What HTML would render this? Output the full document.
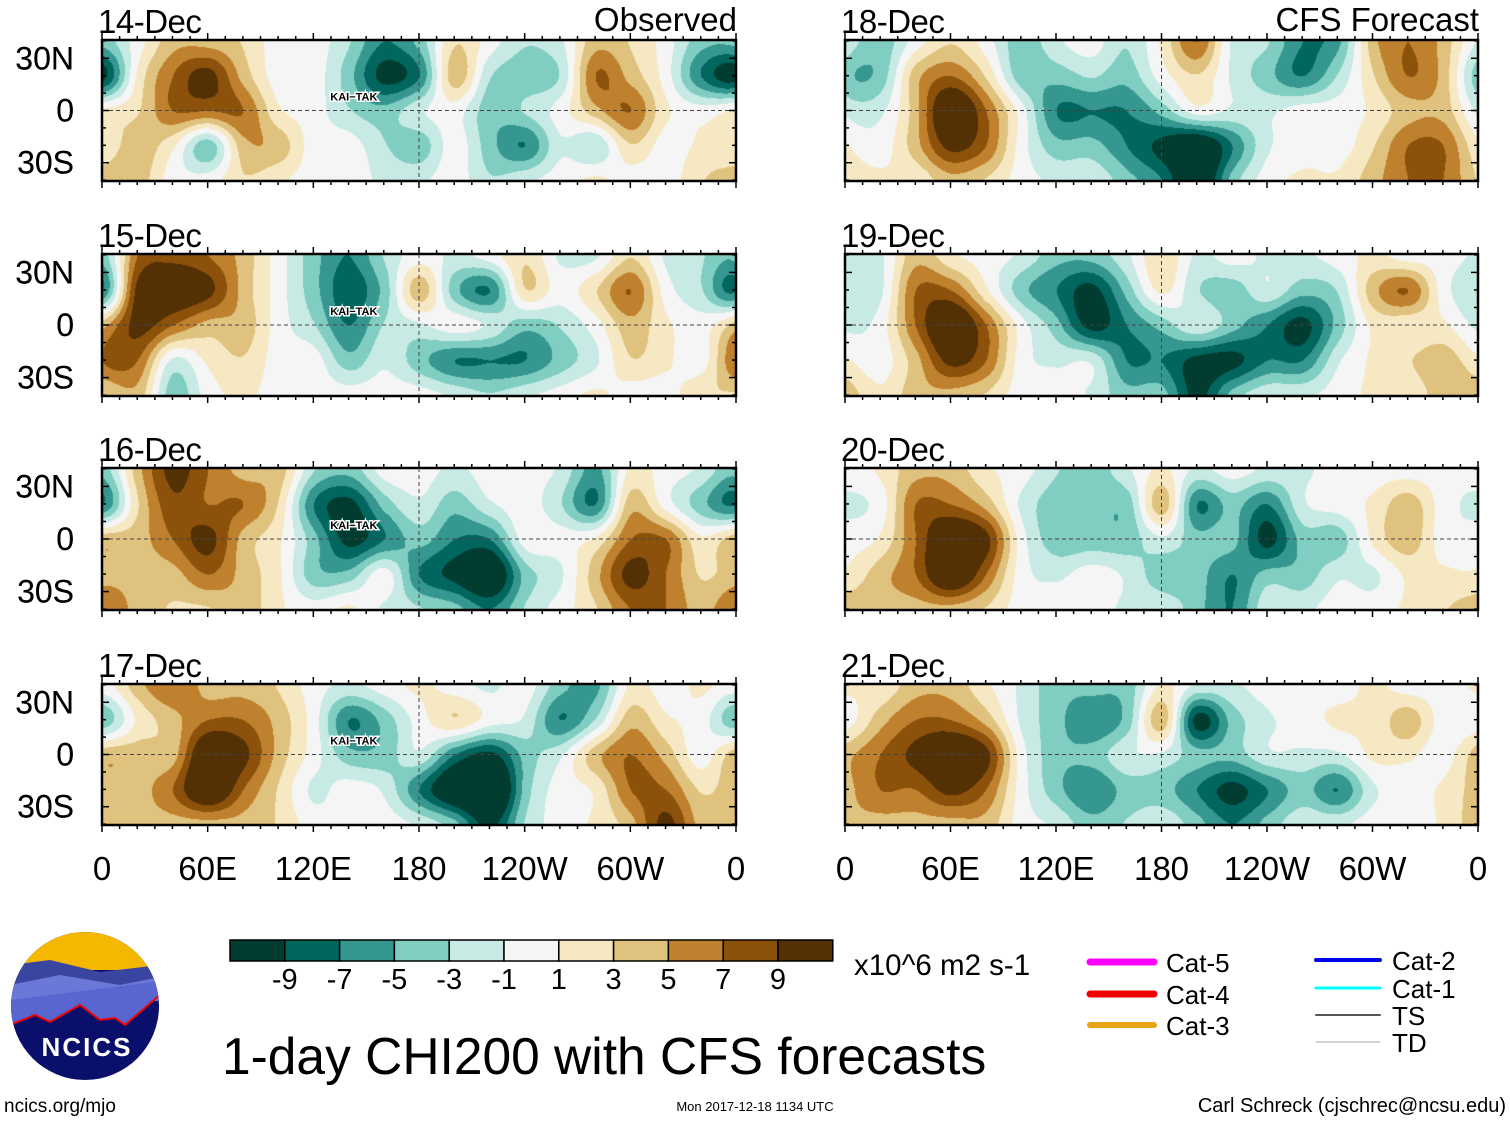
<!DOCTYPE html>
<html><head><meta charset="utf-8">
<style>
body{margin:0;background:#fff;width:1510px;height:1121px;overflow:hidden;position:relative;font-family:"Liberation Sans",sans-serif}
canvas{position:absolute}
svg{position:absolute;left:0;top:0}
</style></head>
<body>
<canvas id="c0" width="634" height="141" style="left:102px;top:40px"></canvas>
<canvas id="c1" width="634" height="142" style="left:102px;top:254px"></canvas>
<canvas id="c2" width="634" height="142" style="left:102px;top:468px"></canvas>
<canvas id="c3" width="634" height="141" style="left:102px;top:684px"></canvas>
<canvas id="c4" width="633" height="141" style="left:845px;top:40px"></canvas>
<canvas id="c5" width="633" height="142" style="left:845px;top:254px"></canvas>
<canvas id="c6" width="633" height="142" style="left:845px;top:468px"></canvas>
<canvas id="c7" width="633" height="141" style="left:845px;top:684px"></canvas>
<svg id="ov" width="1510" height="1121"></svg>
<script>
// grid: lon 0..340 step 20; rows lat 40N,20N,0,20S,40S
const lonCols=[0,20,40,60,80,100,120,140,160,180,200,220,240,260,280,300,320,340];
const latRows=[40,20,0,-20,-40];
const dates=["14-Dec","15-Dec","16-Dec","17-Dec","18-Dec","19-Dec","20-Dec","21-Dec"];
const levels=[-9,-7,-5,-3,-1,1,3,5,7,9];
const colors=["#003c30","#01665e","#35978f","#80cdc1","#c7eae5","#f5f5f5","#f6e8c3","#dfc27d","#bf812d","#8c510a","#543005"];
const xTickLabels=["0","60E","120E","180","120W","60W","0"];
const yTickLabels=["30N","0","30S"];
const p0=[[-3,0,3,3,2,0,0,-2,-5,-3,2,0,-2,-1,3,2,0,-3],[-7,1,5,7,3,0,0,-3,-7,-5,3,-2,-3,-2,5,3,0,-5],[1,2,5,5,5,1,0,-2,-3,-1,0,-3,-2,0,3,5,1,0],[1,3,1,-3,3,3,0,0,-2,-3,0,-3,-5,-1,-2,2,0,1],[3,3,0,0,2,1,0,0,-1,-1,0,-2,-1,0,1,0,0,2]];
const p1=[[-3,5,6,5,3,0,-3,-5,-2,0,-1,0,2,-1,-1,2,-1,-2],[-5,7,8,7,3,0,-3,-6,-3,3,-3,-5,2,0,2,5,0,-2],[3,7,5,3,3,0,-2,-5,-2,-1,0,-1,-3,-2,0,3,1,0],[5,5,-1,1,2,0,0,-3,-1,-3,-5,-5,-5,-3,-1,2,1,0],[2,3,-3,0,1,0,0,0,0,0,-1,-2,-1,0,1,0,0,2]];
const p2=[[-3,3,7,5,3,3,-2,-3,0,0,-1,0,0,-1,-4,1,0,-1],[-5,2,6,5,5,2,-5,-7,-3,-1,-3,-1,0,-2,-5,3,0,-3],[3,3,5,7,3,1,-3,-7,-5,-3,-5,-5,0,0,1,5,5,1],[3,3,3,5,3,1,-3,-3,0,-5,-7,-9,-3,-1,3,7,5,2],[5,3,2,2,3,1,0,1,-1,-2,-3,-5,-2,0,2,5,5,3]];
const p3=[[0,3,5,3,3,2,0,-1,0,1,0,-1,0,-3,-4,1,0,1],[-3,1,3,5,5,3,0,-5,-3,0,2,0,-1,-5,-2,3,1,0],[3,3,3,9,7,3,0,-3,-3,-1,-5,-7,-3,-1,3,5,3,0],[3,3,5,9,5,2,-1,0,-1,-5,-9,-11,-3,0,1,5,5,2],[3,3,3,3,3,2,0,0,0,-1,-3,-7,-2,0,1,3,7,3]];
const p4=[[-1,-3,0,2,0,-3,-1,0,-2,1,5,-1,-2,-5,-4,3,5,3],[-3,-3,3,5,2,-3,-3,-2,-3,0,2,-1,-3,-5,-2,2,5,3],[-1,-1,3,9,5,0,-5,-5,-5,-3,0,-1,-1,0,0,1,3,3],[1,0,3,7,5,0,-3,-3,-5,-7,-9,-5,-1,0,0,2,5,5],[2,1,1,3,2,0,-1,-1,-3,-5,-9,-3,0,1,1,3,5,5]];
const p5=[[-1,-1,3,1,0,-1,-3,-3,-1,2,-1,0,-1,-1,0,1,0,0],[-2,-1,5,5,1,-3,-5,-7,-3,1,-2,-3,-1,-3,-2,3,5,0],[-1,0,5,9,5,0,-3,-7,-5,-3,-1,-3,-5,-7,-3,1,1,1],[1,0,3,7,5,0,-1,-1,-5,-5,-7,-7,-5,-5,-1,1,2,3],[3,1,3,3,2,0,0,-1,-3,-3,-7,-3,-1,-1,0,1,1,3]];
const p6=[[0,1,3,3,1,0,-2,-3,-1,1,-1,0,-1,-1,0,0,0,0],[-1,0,5,5,3,-1,-3,-3,-3,3,-5,-3,-5,-1,0,1,3,0],[0,1,5,9,7,0,-3,-3,-3,-1,-3,-3,-7,-3,-3,1,3,0],[1,3,5,9,5,0,-1,0,-1,-3,-3,-5,-3,-3,-1,-1,1,1],[3,3,3,3,2,0,0,0,-1,-1,-3,-5,-1,-1,0,0,1,2]];
const p7=[[1,1,3,3,1,-1,-3,-3,-3,1,-1,-1,0,0,0,1,0,0],[0,3,5,5,3,-1,-3,-5,-3,3,-7,-3,-1,0,1,1,3,0],[3,5,7,9,7,0,-3,-3,-1,-1,-3,-3,-1,-1,-1,1,1,0],[3,5,5,7,5,0,-3,-5,-3,-3,-5,-7,-5,-3,-5,-1,0,1],[3,3,3,3,3,0,-1,-3,-2,-1,-3,-5,-3,-1,-1,0,0,1]];
const fields=[p0,p1,p2,p3,p4,p5,p6,p7];
const gain=1.4; // compensates for smoothing of coarse grid

function cr(a,b,c,d,t){return b+0.5*t*(c-a+t*(2*a-5*b+4*c-d+t*(3*(b-c)+d-a)));}
function sample(g,lon,lat){
  const nc=lonCols.length,fx=((lon%360)+360)%360/20,ix=Math.floor(fx),tx=fx-ix;
  const fy=(latRows[0]-lat)/20,iy=Math.max(0,Math.min(latRows.length-2,Math.floor(fy))),ty=fy-iy;
  const row=r=>{r=Math.max(0,Math.min(latRows.length-1,r));const R=g[r];
    return cr(R[(ix-1+nc)%nc],R[ix%nc],R[(ix+1)%nc],R[(ix+2)%nc],tx);};
  return cr(row(iy-1),row(iy),row(iy+1),row(iy+2),ty);
}
function colorOf(v){let i=0;while(i<levels.length&&v>=levels[i])i++;return colors[i];}
function hex(c){return [parseInt(c.substr(1,2),16),parseInt(c.substr(3,2),16),parseInt(c.substr(5,2),16)];}
fields.forEach((g,k)=>{
  const cv=document.getElementById('c'+k),ctx=cv.getContext('2d'),W=cv.width,H=cv.height;
  const im=ctx.createImageData(W,H);
  for(let y=0;y<H;y++){const lat=40.5-81*y/H;
    for(let x=0;x<W;x++){const lon=360*x/W;const c=hex(colorOf(gain*sample(g,lon,lat)));
      const o=(y*W+x)*4;im.data[o]=c[0];im.data[o+1]=c[1];im.data[o+2]=c[2];im.data[o+3]=255;}}
  ctx.putImageData(im,0,0);
});

const NS='http://www.w3.org/2000/svg',ov=document.getElementById('ov');
function el(t,a,txt){const e=document.createElementNS(NS,t);for(const k in a)e.setAttribute(k,a[k]);if(txt!==undefined)e.textContent=txt;ov.appendChild(e);return e;}
const panelX=[102,845],panelW=[634,633],panelY=[40,254,468,684],panelH=[141,142,142,141];
for(let k=0;k<8;k++){
  const col=k<4?0:1,row=k%4,x0=panelX[col],w=panelW[col],y0=panelY[row],h=panelH[row];
  const yOf=lat=>y0+h*(40.5-lat)/81,xOf=lon=>x0+w*lon/360;
  let e=el('rect',{x:x0,y:y0,width:w,height:h,fill:'none',stroke:'#000','stroke-width':2.5});
  
  e=el('line',{x1:x0,x2:x0+w,y1:yOf(0),y2:yOf(0),stroke:'#444','stroke-dasharray':'4,3','stroke-width':1});
  
  e=el('line',{x1:xOf(180),x2:xOf(180),y1:y0,y2:y0+h,stroke:'#444','stroke-dasharray':'4,3','stroke-width':1});
  
  for(let lon=0;lon<=360;lon+=10){const L=lon%60==0?7:4;
    el('line',{x1:xOf(lon),x2:xOf(lon),y1:y0,y2:y0-L,stroke:'#000','stroke-width':1.5});
    el('line',{x1:xOf(lon),x2:xOf(lon),y1:y0+h,y2:y0+h+L,stroke:'#000','stroke-width':1.5});}
  for(let lat=-40;lat<=40;lat+=10){const L=lat%30==0?7:4;
    el('line',{x1:x0,x2:x0+L,y1:yOf(lat),y2:yOf(lat),stroke:'#000','stroke-width':1.5});
    el('line',{x1:x0+w,x2:x0+w-L,y1:yOf(lat),y2:yOf(lat),stroke:'#000','stroke-width':1.5});}
  e=el('text',{x:x0-4,y:y0-7,'font-size':33,fill:'#000','letter-spacing':-0.5},dates[k]);
  
  [30,0,-30].forEach((lat,i)=>{const t=el('text',{x:74,y:yOf(lat)+11,'font-size':32,'text-anchor':'end'},yTickLabels[i]);
    });
  if(col==0){const t=el('text',{x:xOf(143),y:yOf(8)+4,'font-size':11,'text-anchor':'middle','font-weight':'bold',stroke:'#fff','stroke-width':3,'paint-order':'stroke'},'KAI−TAK');
    }
  if(row==3){[0,60,120,180,240,300,360].forEach((lon,i)=>{const t=el('text',{x:xOf(lon),y:880,'font-size':33,'text-anchor':'middle'},xTickLabels[i]);
    });}
}
let e=el('text',{x:737,y:31,'font-size':33,'text-anchor':'end'},'Observed');

e=el('text',{x:1479,y:31,'font-size':33,'text-anchor':'end'},'CFS Forecast');

// colorbar
colors.forEach((c,i)=>{const r=el('rect',{x:230+54.8*i,y:940,width:54.8,height:21,fill:c,stroke:'#000','stroke-width':1.5});
  });
levels.forEach((v,i)=>{const t=el('text',{x:284.8+54.8*i,y:989,'font-size':29,'text-anchor':'middle'},v);
  });
e=el('text',{x:854,y:975,'font-size':29.5},'x10^6 m2 s-1');

e=el('text',{x:222,y:1074,'font-size':51.5},'1-day CHI200 with CFS forecasts');

// legend
[['Cat-5','#ff00ff',7,1090,962],['Cat-4','#ee0000',7,1090,994],['Cat-3','#e8a317',6,1090,1025],['Cat-2','#0000ee',4,1316,960],['Cat-1','#00ffff',3,1316,988],['TS','#555',2,1316,1015],['TD','#aaa',1,1316,1042]].forEach(d=>{
  const l=el('line',{x1:d[3],x2:d[3]+64,y1:d[4],y2:d[4],stroke:d[1],'stroke-width':d[2],'stroke-linecap':'round'});
  
  const t=el('text',{x:d[3]+76,y:d[4]+10,'font-size':26},d[0]);
  });
e=el('text',{x:4,y:1112,'font-size':19},'ncics.org/mjo');

e=el('text',{x:755,y:1111,'font-size':13,'text-anchor':'middle'},'Mon 2017-12-18 1134 UTC');

e=el('text',{x:1506,y:1112,'font-size':20,'text-anchor':'end'},'Carl Schreck (cjschrec@ncsu.edu)');

// logo
const lg=document.createElementNS(NS,'g');ov.appendChild(lg);

lg.innerHTML='<defs><clipPath id="cc"><circle cx="85" cy="1006" r="74"/></clipPath></defs><g clip-path="url(#cc)"><rect x="0" y="930" width="170" height="160" fill="#0a0f6b"/><rect x="0" y="930" width="170" height="40" fill="#f5b800"/><path d="M10 965 L50 960 L100 972 L160 965 L170 1000 L10 1000Z" fill="#3a45a0"/><path d="M10 985 L60 975 L120 985 L170 975 L170 1000 L10 1010Z" fill="#6c78d8"/><path d="M10 1025 L35 1015 L50 1022 L80 1005 L100 1020 L115 1018 L125 1025 L160 995 L170 990 L170 980 L10 1000Z" fill="#5a66d0"/><path d="M10 1025 L35 1015 L50 1022 L80 1005 L100 1020 L115 1018 L125 1025 L160 995" fill="none" stroke="#e00" stroke-width="2"/></g><text x="87" y="1056" font-size="26" font-weight="bold" fill="#fff" text-anchor="middle" letter-spacing="2">NCICS</text>';
</script>
</body></html>
